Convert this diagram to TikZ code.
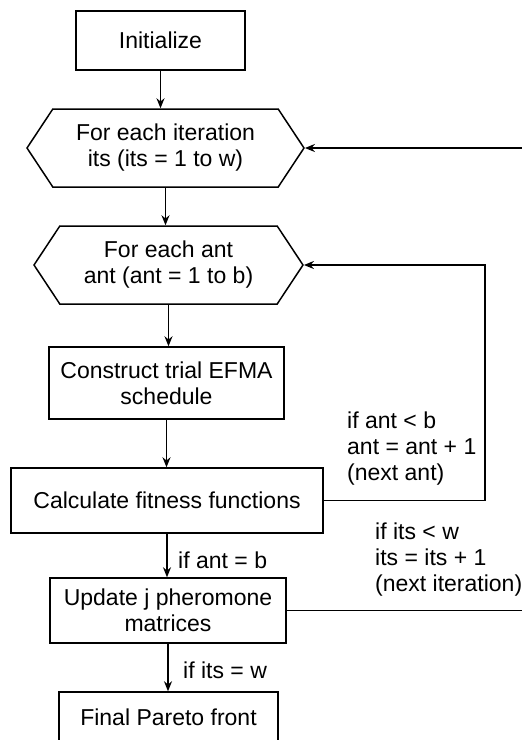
\documentclass[tikz,border=0pt]{standalone}
\usepackage{fontspec}
\setmainfont{Liberation Sans}
\usetikzlibrary{arrows.meta,shapes.symbols}
\begin{document}
\begin{tikzpicture}[x=1pt,y=-1pt,
  every node/.style={font=\fontsize{23}{26}\selectfont},
  line/.style={line width=1.5pt},
  arr/.style={line, -{Stealth[length=10pt,width=8pt]}},
  procbox/.style={draw, line width=1.5pt, rectangle, align=center, inner sep=0pt},
  loopbox/.style={draw, line width=1.5pt, shape=signal, signal to=west and east,
    signal pointer angle=113, align=center, inner sep=0pt},
  note/.style={align=left, inner sep=0pt, anchor=west}]
\useasboundingbox[fill=white] (0,0) rectangle (522,740);

% boxes of the flow
\node[procbox, minimum width=169pt, minimum height=59pt] (init) at (160.5,40.5) {Initialize};
\node[loopbox, minimum width=277pt, minimum height=78pt] (iter) at (165.5,148) {For each iteration\\its (its = 1 to w)};
\node[loopbox, minimum width=269pt, minimum height=78pt] (ant) at (168.5,265) {For each ant\\ant (ant = 1 to b)};
\node[procbox, minimum width=235pt, minimum height=72pt] (build) at (166.5,383) {Construct trial EFMA\\schedule};
\node[procbox, minimum width=312pt, minimum height=65pt] (fit) at (167,500.5) {Calculate fitness functions};
\node[procbox, minimum width=236pt, minimum height=65pt] (upd) at (168,610.5) {Update j pheromone\\matrices};
\node[procbox, minimum width=219pt, minimum height=50pt] (pareto) at (168.5,717) {Final Pareto front};

% forward arrows
\draw[arr] (init.south) -- (init.south |- iter.north);
\draw[arr] (iter.south) -- (iter.south |- ant.north);
\draw[arr] (ant.south) -- (ant.south |- build.north);
\draw[arr] (build.south) -- (build.south |- fit.north);
\draw[arr] (fit.south) -- (fit.south |- upd.north);
\draw[arr] (upd.south) -- (upd.south |- pareto.north);

% loop-back connectors
\coordinate (antloop) at (485,0);
\coordinate (itsloop) at (524,0);
\draw[arr] (fit.east) -- (fit.east -| antloop) -- (antloop |- ant.east) -- (ant.east);
\draw[arr] (upd.east) -- (upd.east -| itsloop) -- (itsloop |- iter.east) -- (iter.east);

% condition labels
\node[note] (antnext) at (347,449) {if ant < b\\ant = ant + 1\\(next ant)};
\node[note] (itsnext) at (375,560) {if its < w\\its = its + 1\\(next iteration)};
\node[note] (antdone) at (178,560) {if ant = b};
\node[note] (itsdone) at (183,670) {if its = w};
\end{tikzpicture}
\end{document}
